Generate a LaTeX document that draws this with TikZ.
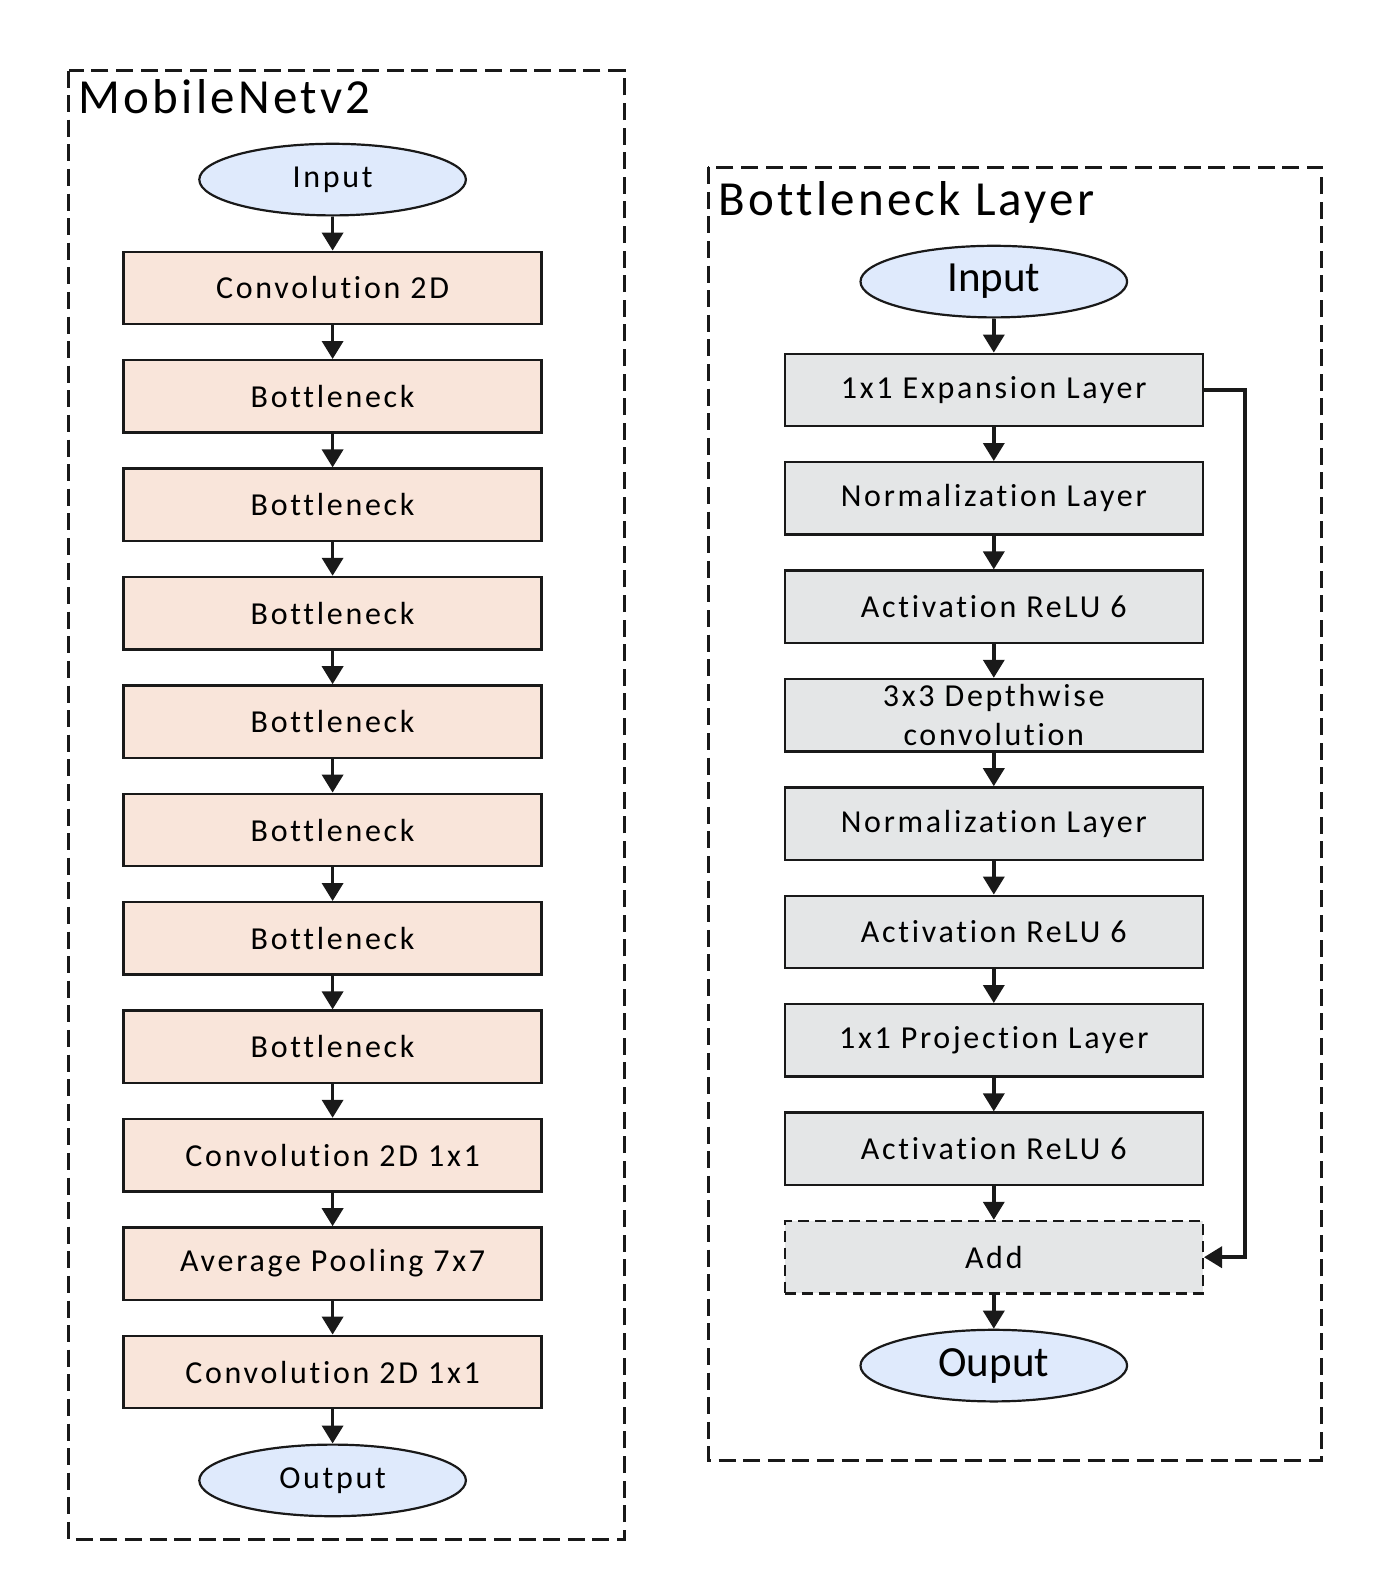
\documentclass[tikz,border=0pt]{standalone}
\usepackage{fontspec}
\setmainfont[Ligatures=NoCommon]{Carlito}
\newfontfamily\boxfont[LetterSpace=8.5,Ligatures=NoCommon]{Carlito}
\newfontfamily\headfont[LetterSpace=6.5,Ligatures=NoCommon]{Carlito}
\usetikzlibrary{shapes.geometric,arrows.meta}
\definecolor{peach}{RGB}{249,229,218}
\definecolor{skyfill}{RGB}{223,234,252}
\definecolor{greyfill}{RGB}{228,230,231}
\definecolor{edge}{RGB}{25,25,25}
\tikzset{
  frame/.style={draw=edge, line width=1.6pt, dash pattern=on 8.5pt off 3.8pt},
  title/.style={anchor=base west, inner sep=0pt, font=\headfont\fontsize{24.5}{27}\selectfont},
  terminal/.style={ellipse, draw=edge, line width=1.1pt, fill=skyfill, inner sep=0pt,
    minimum width=133.3pt, minimum height=35.8pt, font=\boxfont\fontsize{16}{19}\selectfont},
  bigterminal/.style={terminal, font=\fontsize{21.5}{24}\selectfont},
  layerbox/.style={rectangle, draw=edge, line width=1.2pt, inner sep=0pt,
    minimum width=209pt, minimum height=36.2pt, align=center,
    font=\boxfont\fontsize{16}{19.5}\selectfont},
  mbox/.style={layerbox, fill=peach},
  bbox/.style={layerbox, fill=greyfill},
  flow/.style={draw=edge, line width=1.8pt, -{Triangle[length=9pt,width=10.5pt]}}
}
\begin{document}
\begin{tikzpicture}[x=0.5pt,y=-0.5pt]
\useasboundingbox (0,0) rectangle (1372,1580);

% ---------- MobileNetv2 ----------
\draw[frame] (68.5,70.5) rectangle (624.6,1539.2);
\node[title] (mtitle) at (78.5,113) {MobileNetv2};

\node[terminal] (min) at (332.6,179.6) {Input};
\node[mbox] (m1)  at (332.6,288.0)  {Convolution 2D};
\node[mbox] (m2)  at (332.6,396.4)  {Bottleneck};
\node[mbox] (m3)  at (332.6,504.8)  {Bottleneck};
\node[mbox] (m4)  at (332.6,613.2)  {Bottleneck};
\node[mbox] (m5)  at (332.6,721.6)  {Bottleneck};
\node[mbox] (m6)  at (332.6,830.0)  {Bottleneck};
\node[mbox] (m7)  at (332.6,938.4)  {Bottleneck};
\node[mbox] (m8)  at (332.6,1046.8) {Bottleneck};
\node[mbox] (m9)  at (332.6,1155.2) {Convolution 2D 1x1};
\node[mbox] (m10) at (332.6,1263.6) {Average Pooling 7x7};
\node[mbox] (m11) at (332.6,1372.0) {Convolution 2D 1x1};
\node[terminal] (mout) at (332.6,1480.4) {Output};

\draw[flow] (min) -- (m1);
\draw[flow] (m1) -- (m2);
\draw[flow] (m2) -- (m3);
\draw[flow] (m3) -- (m4);
\draw[flow] (m4) -- (m5);
\draw[flow] (m5) -- (m6);
\draw[flow] (m6) -- (m7);
\draw[flow] (m7) -- (m8);
\draw[flow] (m8) -- (m9);
\draw[flow] (m9) -- (m10);
\draw[flow] (m10) -- (m11);
\draw[flow] (m11) -- (mout);

% ---------- Bottleneck layer ----------
\draw[frame] (708.2,167.2) rectangle (1321.6,1460.6);
\node[title] (btitle) at (718.5,215) {Bottleneck Layer};

\node[bigterminal] (bin) at (993.8,281.6) {Input};
\node[bbox] (b1) at (993.8,390.0)  {1x1 Expansion Layer};
\node[bbox] (b2) at (993.8,498.4)  {Normalization Layer};
\node[bbox] (b3) at (993.8,606.8)  {Activation ReLU 6};
\node[bbox] (b4) at (993.8,715.2)  {3x3 Depthwise\\convolution};
\node[bbox] (b5) at (993.8,823.6)  {Normalization Layer};
\node[bbox] (b6) at (993.8,932.0)  {Activation ReLU 6};
\node[bbox] (b7) at (993.8,1040.4) {1x1 Projection Layer};
\node[bbox] (b8) at (993.8,1148.8) {Activation ReLU 6};
\node[bbox, dash pattern=on 5.5pt off 3pt] (badd) at (993.8,1257.2) {Add};
\node[bigterminal] (bout) at (993.8,1365.6) {Ouput};

\draw[flow] (bin) -- (b1);
\draw[flow] (b1) -- (b2);
\draw[flow] (b2) -- (b3);
\draw[flow] (b3) -- (b4);
\draw[flow] (b4) -- (b5);
\draw[flow] (b5) -- (b6);
\draw[flow] (b6) -- (b7);
\draw[flow] (b7) -- (b8);
\draw[flow] (b8) -- (badd);
\draw[flow] (badd) -- (bout);

% residual shortcut
\coordinate (skip) at (1245,390);
\draw[flow] (b1.east) -- (skip) |- (badd.east);
\end{tikzpicture}
\end{document}
